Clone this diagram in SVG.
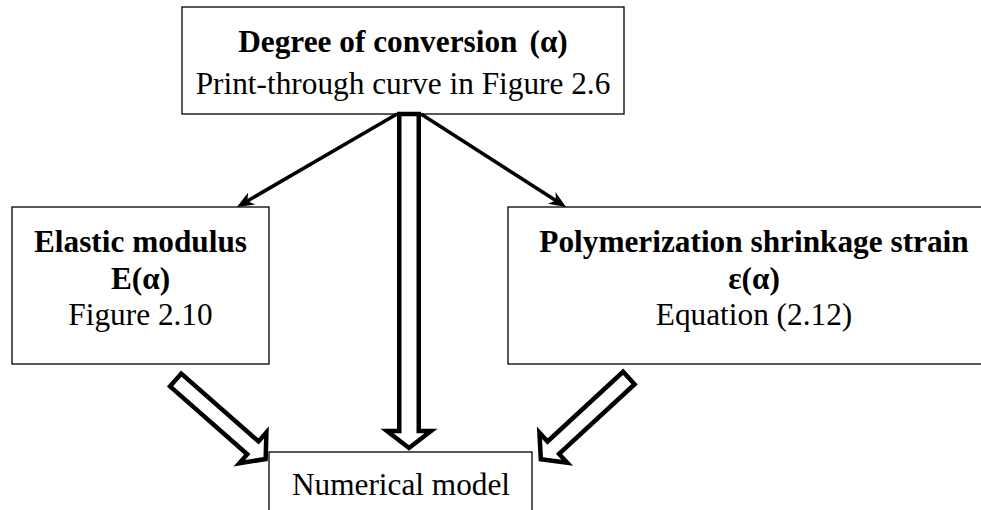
<svg xmlns="http://www.w3.org/2000/svg" xmlns:xlink="http://www.w3.org/1999/xlink" width="981" height="510" viewBox="0 0 981 510">
<style>
.box{fill:#fff;stroke:#000;stroke-width:1.3}
.t{font-family:"Liberation Serif","Times New Roman",serif;font-size:31.3px;fill:#000;text-anchor:middle}
.b{font-weight:bold}
.thin{fill:none;stroke:#000;stroke-width:3.5}
.hollow{fill:#fff;stroke:#000;stroke-width:4.5;stroke-linejoin:miter;stroke-miterlimit:10}
</style>
<defs>
<marker id="stealth" markerUnits="userSpaceOnUse" orient="auto" refX="0" refY="0" markerWidth="40" markerHeight="40" overflow="visible">
<path d="M8,0 L-9,-7 L-4,0 L-9,7 Z" fill="#000"/>
</marker>
<polygon id="diag" points="2.25,-8.5 105,-8.5 105,-20.5 122,0 105,20.5 105,8.5 2.25,8.5"/>
</defs>
<g id="n-top">
<rect class="box" x="182" y="7" width="442" height="107"/>
<text class="t b" x="403" y="52">Degree of conversion<tspan dx="12">(α)</tspan></text>
<text class="t" x="403" y="94">Print-through curve in Figure 2.6</text>
</g>
<g id="n-left">
<rect class="box" x="12" y="207" width="257" height="157"/>
<text class="t b" x="140.5" y="252">Elastic modulus</text>
<text class="t b" x="140.5" y="289">E(α)</text>
<text class="t" x="140.5" y="325">Figure 2.10</text>
</g>
<g id="n-right">
<rect class="box" x="508" y="207" width="500" height="157"/>
<text class="t b" x="754" y="252">Polymerization shrinkage strain</text>
<text class="t b" x="754" y="289">ε(α)</text>
<text class="t" x="754" y="325">Equation (2.12)</text>
</g>
<g id="n-bottom">
<rect class="box" x="269" y="452" width="263" height="80"/>
<text class="t" x="401" y="495">Numerical model</text>
</g>
<g id="connectors">
<line class="thin" x1="397" y1="114" x2="243.9" y2="203" marker-end="url(#stealth)"/>
<line class="thin" x1="421" y1="114" x2="559.3" y2="202.7" marker-end="url(#stealth)"/>
<polygon class="hollow" points="399.25,114 418.75,114 418.75,431 431,431 409,448 387,431 399.25,431"/>
<use class="hollow" xlink:href="#diag" transform="translate(174 378.5) rotate(41.3)"/>
<use class="hollow" xlink:href="#diag" transform="translate(630.5 376.5) rotate(137.3)"/>
</g>
</svg>
